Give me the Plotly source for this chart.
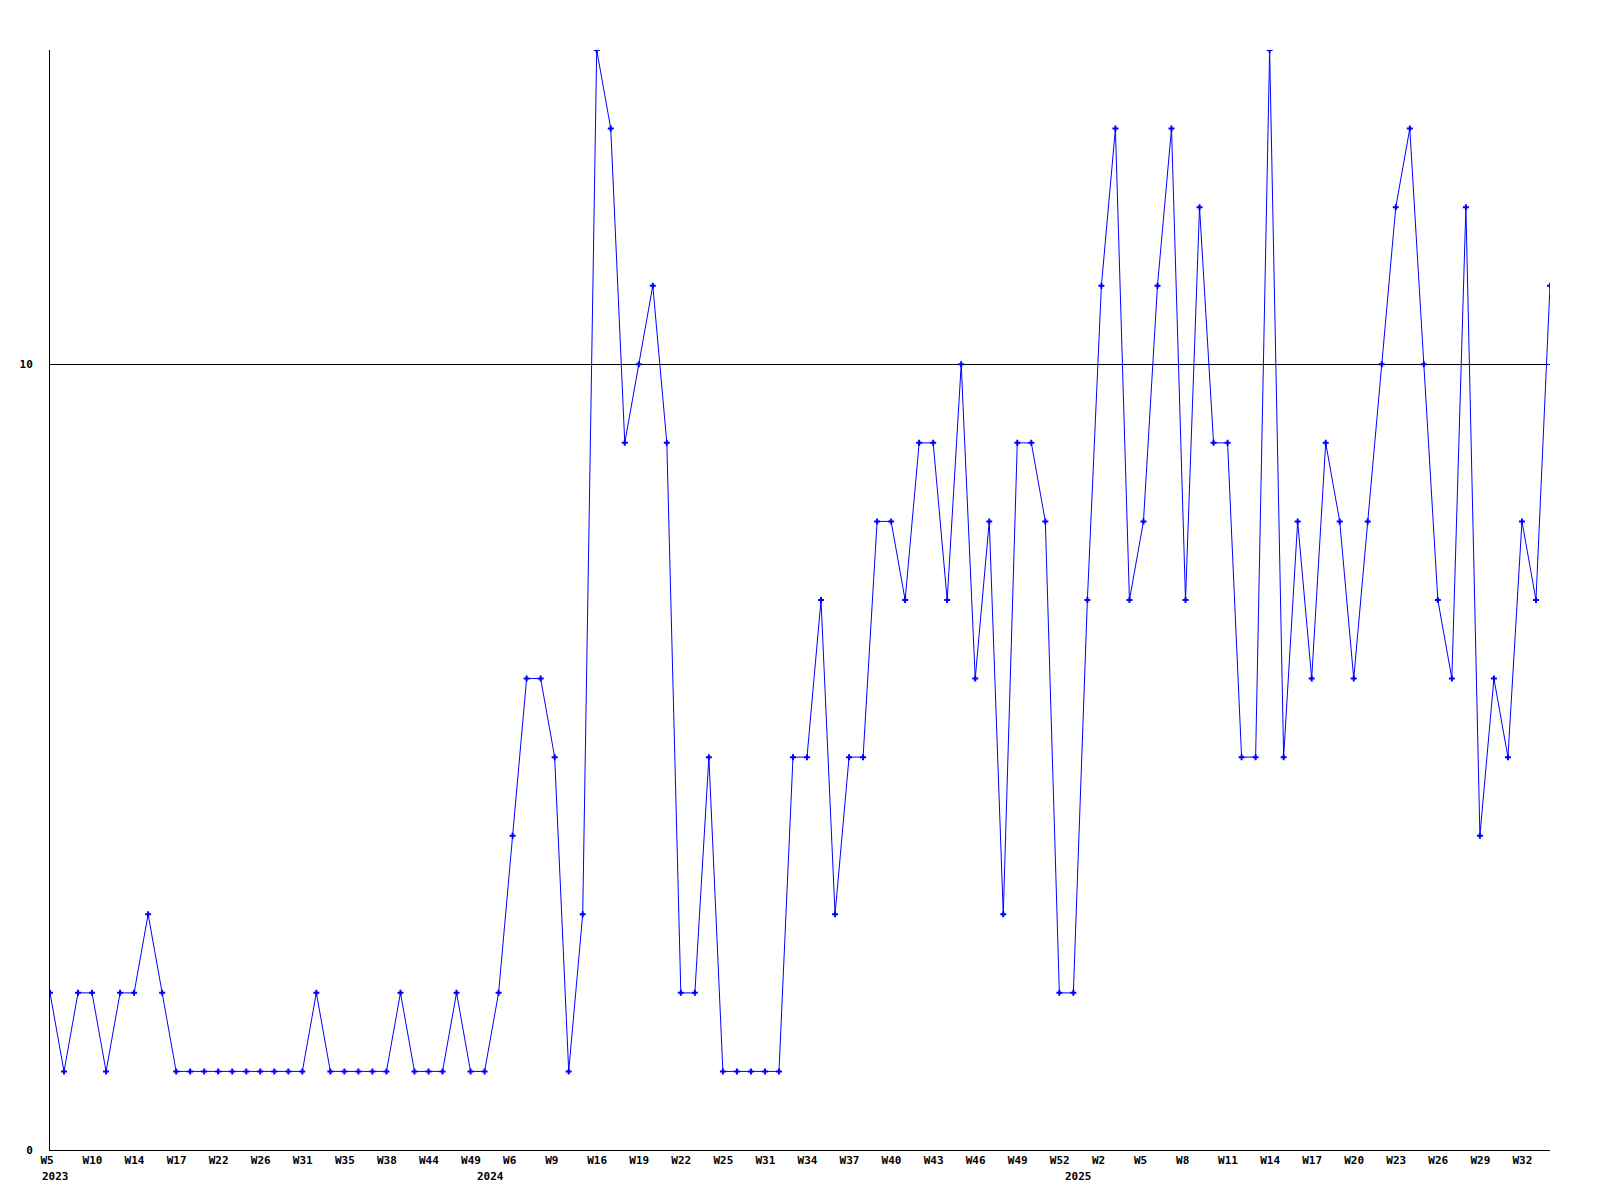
import plotly.graph_objects as go

# Series values (one per data point, in order)
values = [
    2, 1, 2, 2, 1, 2, 2, 3, 2, 1,
    1, 1, 1, 1, 1, 1, 1, 1, 1, 2,
    1, 1, 1, 1, 1, 2, 1, 1, 1, 2,
    1, 1, 2, 4, 6, 6, 5, 1, 3, 14,
    13, 9, 10, 11, 9, 2, 2, 5, 1, 1,
    1, 1, 1, 5, 5, 7, 3, 5, 5, 8,
    8, 7, 9, 9, 7, 10, 6, 8, 3, 9,
    9, 8, 2, 2, 7, 11, 13, 7, 8, 11,
    13, 7, 12, 9, 9, 5, 5, 14, 5, 8,
    6, 9, 8, 6, 8, 10, 12, 13, 10, 7,
    6, 12, 4, 6, 5, 8, 7, 11,
]

# Week tick labels (one every 3rd point)
week_labels = [
    "W5", "W10", "W14", "W17", "W22", "W26", "W31", "W35", "W38", "W44",
    "W49", "W6", "W9", "W16", "W19", "W22", "W25", "W31", "W34", "W37",
    "W40", "W43", "W46", "W49", "W52", "W2", "W5", "W8", "W11", "W14",
    "W17", "W20", "W23", "W26", "W29", "W32",
]
label_step = 3

# Year labels and the index of the first point of each year
years = ["2023", "2024", "2025"]
year_start_index = [0, 31, 73]

y_ticks = [0, 10]

x = list(range(len(values)))
tick_positions = [i * label_step for i in range(len(week_labels))]

font = dict(family="DejaVu Sans Mono", size=11, color="black", weight="bold")

fig = go.Figure()
fig.add_trace(go.Scatter(
    x=x, y=values, mode="lines+markers",
    line=dict(color="#0000ff", width=1),
    marker=dict(symbol="cross", size=5, color="#0000ff", line=dict(width=0)),
    showlegend=False,
))

for yr, idx in zip(years, year_start_index):
    fig.add_annotation(
        x=idx, y=-0.0245, xref="x", yref="paper",
        text=yr, showarrow=False, xanchor="left", yanchor="middle",
        xshift=-10, font=font,
    )

fig.update_layout(
    width=1600, height=1200,
    margin=dict(l=42, r=58, t=42, b=58, autoexpand=False),
    paper_bgcolor="white", plot_bgcolor="white",
    font=font,
)
fig.update_xaxes(
    range=[0, len(values) - 1],
    tickmode="array", tickvals=tick_positions, ticktext=week_labels,
    ticklabelposition="outside right", ticklabelshift=-10,
    showgrid=False, zeroline=False,
    showline=True, linecolor="black", linewidth=1,
    ticks="", tickfont=font,
)
fig.update_yaxes(
    range=[0, 14],
    tickmode="array", tickvals=y_ticks, ticktext=[str(v) for v in y_ticks],
    showgrid=True, gridcolor="black", gridwidth=1,
    zeroline=False, showline=True, linecolor="black", linewidth=1,
    ticks="", ticklabelstandoff=14, tickfont=font,
)

fig.write_html("out.html")
